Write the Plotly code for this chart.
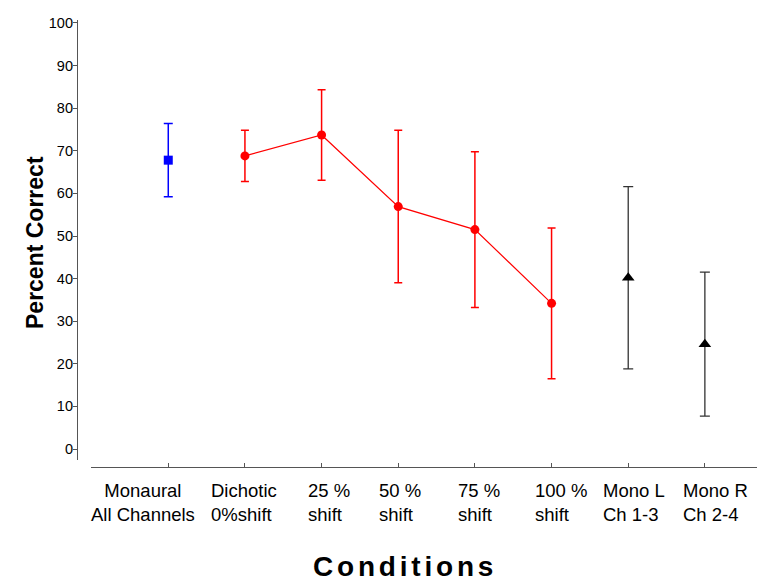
import plotly.graph_objects as go

conditions = ["Monaural<br>All Channels", "Dichotic<br>0%shift", "25 %<br>shift", "50 %<br>shift",
              "75 %<br>shift", "100 %<br>shift", "Mono L<br>Ch 1-3", "Mono R<br>Ch 2-4"]
percent_correct = [67.8, 68.8, 73.7, 56.9, 51.5, 34.2, 40.2, 24.6]
error = [8.6, 6.0, 10.6, 17.9, 18.3, 17.7, 21.4, 16.9]
y_ticks = [0, 10, 20, 30, 40, 50, 60, 70, 80, 90, 100]

idx = list(range(len(conditions)))
FONT = "Liberation Sans, Arial, sans-serif"

fig = go.Figure()
# Monaural (blue square)
fig.add_trace(go.Scatter(
    x=idx[0:1], y=percent_correct[0:1], mode="markers",
    marker=dict(symbol="square", size=9, color="#0000FF"),
    error_y=dict(type="data", array=error[0:1], color="#0000FF", thickness=1.5, width=4.5),
    showlegend=False))
# Dichotic shifts (red line + circles)
fig.add_trace(go.Scatter(
    x=idx[1:6], y=percent_correct[1:6], mode="lines+markers",
    line=dict(color="#FF0000", width=1.2),
    marker=dict(symbol="circle", size=9, color="#FF0000"),
    error_y=dict(type="data", array=error[1:6], color="#FF0000", thickness=1.5, width=4),
    showlegend=False))
# Mono L / Mono R (black triangles)
fig.add_trace(go.Scatter(
    x=idx[6:8], y=percent_correct[6:8], mode="markers",
    marker=dict(symbol="triangle-up", size=11, color="#000000"),
    error_y=dict(type="data", array=error[6:8], color="#333333", thickness=1.3, width=5),
    showlegend=False))

# tick-label placement (style): left offset of each label block from its tick, in px
label_dx = [-78, -35, -15, -20, -18, -18, -26, -23]
label_align = ["center", "left", "left", "left", "left", "left", "left", "left"]
for i, lab in enumerate(conditions):
    fig.add_annotation(x=idx[i], xref="x", y=0, yref="paper", xanchor="left", yanchor="top",
                       yshift=-12, xshift=label_dx[i], text=lab, showarrow=False,
                       align=label_align[i], borderpad=0,
                       font=dict(family=FONT, size=18.5, color="#000000"))

# axis titles
fig.add_annotation(x=(405 - 77) / 680, xref="paper", y=(467 - 566) / 447, yref="paper",
                   text='<span style="letter-spacing:3.8px">Conditions</span>', showarrow=False,
                   xanchor="center", yanchor="middle",
                   font=dict(family=FONT, size=28, color="#000000", weight="bold"))
fig.add_annotation(x=(35 - 77) / 680, xref="paper", y=(467 - 243) / 447, yref="paper",
                   text="Percent Correct", textangle=-90, showarrow=False,
                   xanchor="center", yanchor="middle",
                   font=dict(family=FONT, size=23, color="#000000", weight="bold"))

fig.update_layout(
    width=757, height=581,
    margin=dict(l=77, r=0, t=20, b=114, autoexpand=False),
    plot_bgcolor="white", paper_bgcolor="white",
    xaxis=dict(domain=[14 / 680, 1], anchor="free", position=0, range=[-1.008, 7.68],
               tickmode="array", tickvals=idx, showticklabels=False, automargin=False,
               ticks="inside", ticklen=4, tickcolor="#555555",
               showline=True, linecolor="#555555", linewidth=1.2, showgrid=False, zeroline=False),
    yaxis=dict(domain=[7 / 447, 1], anchor="free", position=0, range=[-2.58, 100.7],
               automargin=False,
               tickmode="array", tickvals=y_ticks, ticks="outside", ticklen=4, tickcolor="#555555",
               ticklabelstandoff=-3,
               showline=True, linecolor="#555555", linewidth=1.2, showgrid=False, zeroline=False,
               tickfont=dict(family=FONT, size=14.5, color="#000000")),
)

fig.write_html("out.html", config={"displayModeBar": False},
               post_script="document.body.style.margin='0';")
